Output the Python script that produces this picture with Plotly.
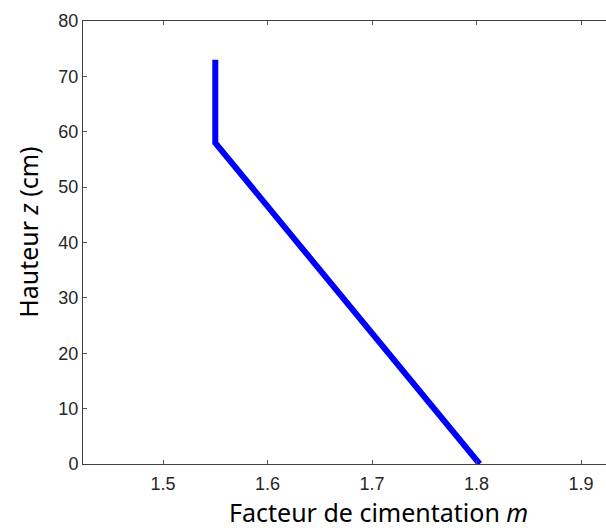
import plotly.graph_objects as go

# profile of cementation factor versus height
m_values = [1.55, 1.55, 1.803]
z_values = [73, 58, 0]

x_ticks = [1.5, 1.6, 1.7, 1.8, 1.9]
y_ticks = [0, 10, 20, 30, 40, 50, 60, 70, 80]

x_title = "Facteur de cimentation <i>m</i>"
y_title = "Hauteur <i>z</i> (cm)"

tick_font = dict(family="Liberation Sans, Arial", size=18, color="#262626")
title_font = dict(family="Noto Sans, Open Sans", size=25, color="black")

fig = go.Figure()
fig.add_trace(
    go.Scatter(
        x=m_values,
        y=z_values,
        mode="lines",
        line=dict(color="rgb(0,0,255)", width=6),
        showlegend=False,
    )
)

fig.update_layout(
    width=606,
    height=530,
    plot_bgcolor="white",
    paper_bgcolor="white",
    margin=dict(l=83, r=0, t=21, b=66, autoexpand=False),
)

fig.update_xaxes(
    range=[1.4234, 1.9239],
    tickvals=x_ticks,
    ticktext=[str(t) for t in x_ticks],
    tickfont=tick_font,
    ticks="inside",
    ticklen=4,
    tickcolor="#555555",
    ticklabelstandoff=3,
    showline=True,
    linecolor="#404040",
    linewidth=1,
    mirror="ticks",
    showgrid=False,
    zeroline=False,
    automargin=False,
)

fig.update_yaxes(
    range=[0, 80],
    tickvals=y_ticks,
    tickfont=tick_font,
    ticks="inside",
    ticklen=4,
    tickcolor="#555555",
    showline=True,
    linecolor="#404040",
    linewidth=1,
    showgrid=False,
    zeroline=False,
    automargin=False,
)

# axis titles as annotations (the original axes run past the right edge)
fig.add_annotation(
    text=x_title, xref="paper", yref="paper", x=0.565, y=-0.108,
    xanchor="center", yanchor="middle", showarrow=False, font=title_font,
)
fig.add_annotation(
    text=y_title, xref="paper", yref="paper", x=-0.105, y=0.522,
    xanchor="center", yanchor="middle", showarrow=False, textangle=-90, font=title_font,
)

# drop the default page margin so the figure sits at the window corner
fig.write_html(
    "out.html",
    config={"displayModeBar": False},
    post_script="document.body.style.margin='0';document.body.style.overflow='hidden';",
)
